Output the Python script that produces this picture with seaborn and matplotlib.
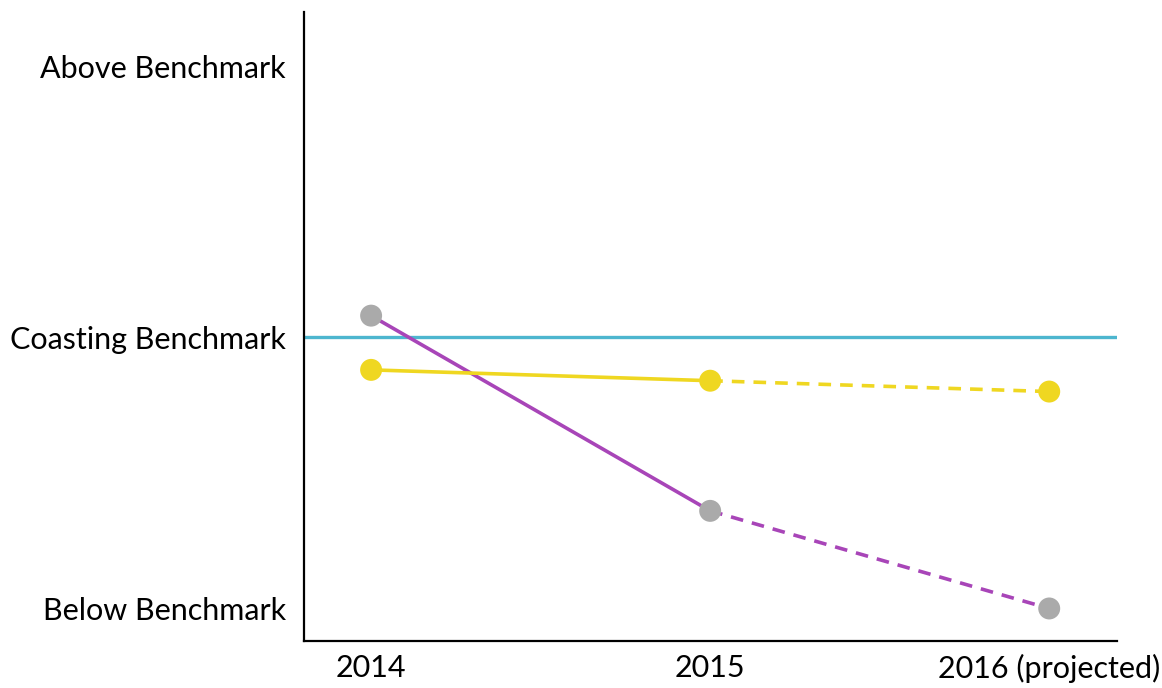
import pandas as pd
import seaborn as sns
import matplotlib.pyplot as plt

years = ['2014', '2015', '2016 (projected)']
levels = ['Below Benchmark', 'Coasting Benchmark', 'Above Benchmark']
purple_vals = [1.08, 0.36, 0.0]
yellow_vals = [0.88, 0.84, 0.80]
benchmark = 1.0

sns.set_theme(style='white')
plt.rcParams['font.family'] = ['Lato', 'DejaVu Sans']

fig = plt.figure(figsize=(11.62, 6.88), dpi=100)
ax = fig.add_axes([0.2616, 0.0683, 0.6997, 0.9143])

x = list(range(len(years)))
purple_col = '#a845b8'
yellow_col = '#efd721'
grey_col = '#aaaaaa'

ax.axhline(benchmark, color='#4db6cf', lw=2.4, zorder=1)

for vals, col in [(purple_vals, purple_col), (yellow_vals, yellow_col)]:
    df = pd.DataFrame({'x': x, 'y': vals})
    sns.lineplot(data=df.iloc[:2], x='x', y='y', color=col, lw=2.6, ax=ax, zorder=2)
    sns.lineplot(data=df.iloc[1:], x='x', y='y', color=col, lw=2.6, ax=ax,
                 linestyle=(0, (3.5, 2.5)), zorder=2)

sns.scatterplot(x=x, y=purple_vals, color=grey_col, s=250, edgecolor='none', ax=ax, zorder=3)
sns.scatterplot(x=x, y=yellow_vals, color=yellow_col, s=250, edgecolor='none', ax=ax, zorder=3)

ax.set_xlim(-0.198, 2.2)
ax.set_ylim(-0.12, 2.2)
ax.set_xticks(x)
ax.set_xticklabels(years, fontsize=22, color='black')
ax.set_yticks([0, 1, 2])
ax.set_yticklabels(levels, fontsize=22, color='black')
ax.set_xlabel('')
ax.set_ylabel('')
ax.tick_params(axis='x', length=0, pad=9)
ax.tick_params(axis='y', length=0, pad=13)
for side in ['top', 'right']:
    ax.spines[side].set_visible(False)
for side in ['left', 'bottom']:
    ax.spines[side].set_color('black')
    ax.spines[side].set_linewidth(1.6)

fig.savefig('out.png', dpi=100)
